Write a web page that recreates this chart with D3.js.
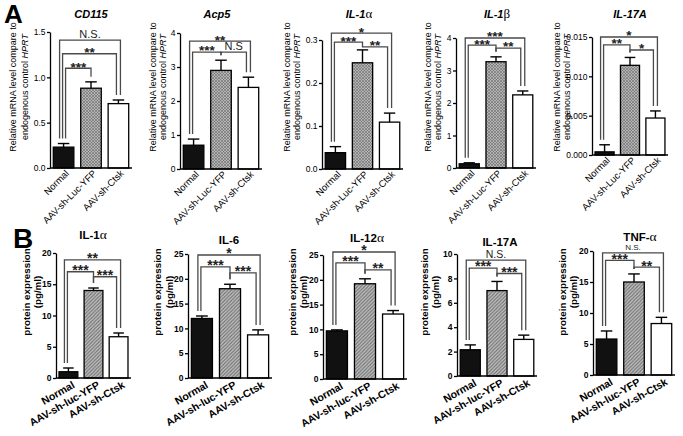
<!DOCTYPE html>
<html><head><meta charset="utf-8">
<script src="https://cdn.jsdelivr.net/npm/d3@7"></script>
<style>
body{margin:0;background:#fff}
svg{display:block;font-family:"Liberation Sans",Arial,Helvetica,sans-serif}
</style>
</head><body>
<svg id="chart" width="683" height="436"></svg>
<script>
// ---------------- data ----------------
const groupsA = ["Normal", "AAV-sh-Luc-YFP", "AAV-sh-Ctsk"];
const groupsB = ["Normal", "AAV-sh-luc-YFP", "AAV-sh-Ctsk"];

const titlesA = ["CD115", "Acp5", "IL-1α", "IL-1β", "IL-17A"];
const meansA = [
  [0.23, 0.88, 0.71],
  [0.70, 2.90, 2.40],
  [0.038, 0.247, 0.109],
  [0.13, 3.27, 2.25],
  [0.0004, 0.0114, 0.0047]
];
const errorsA = [
  [0.04, 0.07, 0.04],
  [0.18, 0.30, 0.30],
  [0.014, 0.030, 0.021],
  [0.03, 0.15, 0.12],
  [0.0009, 0.0010, 0.0009]
];
const ticksA = [
  [0, 0.5, 1.0, 1.5],
  [0, 1, 2, 3, 4],
  [0, 0.1, 0.2, 0.3],
  [0, 1, 2, 3, 4],
  [0, 0.005, 0.010, 0.015]
];
const tickLabelsA = [
  ["0.0", "0.5", "1.0", "1.5"],
  ["0", "1", "2", "3", "4"],
  ["0.0", "0.1", "0.2", "0.3"],
  ["0", "1", "2", "3", "4"],
  ["0.000", "0.005", "0.010", "0.015"]
];
// significance brackets: [from group, to group, label, bracket height in data units]
const sigA = [
  [[0, 2, "N.S.", 1.41], [0, 2, "**", 1.26], [0, 1, "***", 1.10]],
  [[0, 2, "**", 3.76], [0, 1, "***", 3.44], [1, 2, "N.S", 3.44]],
  [[0, 2, "*", 0.316], [0, 1, "***", 0.295], [1, 2, "**", 0.284]],
  [[0, 2, "***", 4.0], [0, 1, "***", 3.78], [1, 2, "**", 3.69]],
  [[0, 2, "*", 0.0150], [0, 1, "**", 0.0140], [1, 2, "*", 0.01335]]
];
const yLabelA = ["Relative mRNA level compare to", "endogenous control ", "HPRT"];

const titlesB = ["IL-1α", "IL-6", "IL-12α", "IL-17A", "TNF-α"];
const meansB = [
  [1.0, 14.0, 6.6],
  [12.0, 18.0, 8.7],
  [9.7, 19.2, 13.1],
  [2.15, 7.0, 3.0],
  [5.8, 15.0, 8.3]
];
const errorsB = [
  [0.6, 0.4, 0.6],
  [0.5, 0.9, 1.0],
  [0.2, 1.0, 0.7],
  [0.4, 0.75, 0.35],
  [1.3, 1.3, 1.0]
];
const ticksB = [
  [0, 5, 10, 15, 20],
  [0, 5, 10, 15, 20, 25],
  [0, 5, 10, 15, 20, 25],
  [0, 2, 4, 6, 8, 10],
  [0, 5, 10, 15, 20]
];
const sigB = [
  [[0, 2, "**", 18.9], [0, 1, "***", 17.0], [1, 2, "***", 16.2]],
  [[0, 2, "*", 24.8], [0, 1, "***", 22.4], [1, 2, "***", 21.2]],
  [[0, 2, "*", 25.6], [0, 1, "***", 23.4], [1, 2, "**", 22.0]],
  [[0, 2, "N.S.", 9.5], [0, 1, "***", 8.85], [1, 2, "***", 8.4]],
  [[0, 2, "N.S.", 19.7], [0, 1, "***", 18.5], [1, 2, "**", 17.4]]
];
const yLabelB = ["protein expression", "(pg/ml)"];
const panelLetters = ["A", "B"];

// ---------------- layout (positions only) ----------------
const layoutA = [
  {x0: 50,  x1: 132, top: 32, bot: 168, lab: [13, 25],   tx: 91},
  {x0: 180, x1: 262, top: 33, bot: 169, lab: [153, 163], tx: 217},
  {x0: 322, x1: 403, top: 40, bot: 169, lab: [287, 297], tx: 359},
  {x0: 456, x1: 536, top: 38, bot: 168, lab: [428, 438], tx: 497},
  {x0: 592, x1: 668, top: 37, bot: 155, lab: [557, 567], tx: 630}
];
const layoutB = [
  {x0: 56,  x1: 131, top: 253, bot: 378, lab: [27, 38],   tx: 93,  ty: 239},
  {x0: 188, x1: 272, top: 254, bot: 378, lab: [158, 170], tx: 229, ty: 244},
  {x0: 323, x1: 407, top: 255, bot: 379, lab: [293, 304], tx: 367, ty: 242},
  {x0: 457, x1: 537, top: 254, bot: 376, lab: [425, 436], tx: 500, ty: 246},
  {x0: 593, x1: 675, top: 251, bot: 375, lab: [563, 574], tx: 640, ty: 241}
];

const svg = d3.select("#chart");
const defs = svg.append("defs");
// cross-hatch for top row
const pA = defs.append("pattern").attr("id", "hatchA").attr("patternUnits", "userSpaceOnUse")
  .attr("width", 3).attr("height", 3);
pA.append("rect").attr("width", 3).attr("height", 3).attr("fill", "#b4b4b4");
pA.append("path").attr("d", "M-1,1 l2,-2 M0,3 l3,-3 M2,4 l2,-2 M-1,2 l2,2 M0,0 l3,3 M2,-1 l2,2")
  .attr("stroke", "#6a6a6a").attr("stroke-width", 0.6);
// diagonal hatch for bottom row
const pB = defs.append("pattern").attr("id", "hatchB").attr("patternUnits", "userSpaceOnUse")
  .attr("width", 3.5).attr("height", 3.5);
pB.append("rect").attr("width", 3.5).attr("height", 3.5).attr("fill", "#c4c4c4");
pB.append("path").attr("d", "M-1,1 l2,-2 M0,3.5 l3.5,-3.5 M2.5,4.5 l2,-2")
  .attr("stroke", "#707070").attr("stroke-width", 1.1);

const fills = ["#111", null, "#fff"];
const GREEK = /[αβ]/;

function titleText(sel, str, greekSize) {
  for (const ch of str.split(/([αβ])/)) {
    if (!ch) continue;
    const t = sel.append("tspan").text(ch);
    if (GREEK.test(ch)) t.attr("font-family", "'Liberation Serif','DejaVu Serif',serif")
      .attr("font-style", "normal").attr("font-weight", "normal").attr("font-size", greekSize);
  }
}

function drawPanel(cfg) {
  const {L, groups, means, errs, ticks, tickLabels, sig, hatch, bold, angle,
         tickFont, xFont, xShift, title, titleFont, titleStyle, titleY, yLab, yLabFont, yLabCY, ns, star} = cfg;
  const g = svg.append("g");
  const y = d3.scaleLinear().domain([0, ticks[ticks.length - 1]]).range([L.bot, L.top]);
  const x = d3.scaleBand().domain(groups).range([L.x0, L.x1]).paddingInner(0.25).paddingOuter(0.12);
  const bw = x.bandwidth();
  const cx = i => x(groups[i]) + bw / 2;

  // bars
  g.selectAll("rect.bar").data(means).join("rect").attr("class", "bar")
    .attr("x", (d, i) => x(groups[i])).attr("width", bw)
    .attr("y", d => y(d)).attr("height", d => L.bot - y(d))
    .attr("fill", (d, i) => i === 1 ? `url(#${hatch})` : fills[i])
    .attr("stroke", "#000").attr("stroke-width", 1.3);

  // error bars (upper only)
  const eg = g.append("g").attr("stroke", "#000").attr("stroke-width", 1.4);
  means.forEach((m, i) => {
    const yt = y(m + errs[i]);
    eg.append("line").attr("x1", cx(i)).attr("x2", cx(i)).attr("y1", y(m)).attr("y2", yt);
    eg.append("line").attr("x1", cx(i) - bw * 0.28).attr("x2", cx(i) + bw * 0.28).attr("y1", yt).attr("y2", yt);
  });

  // axes
  const ya = d3.axisLeft(y).tickValues(ticks).tickFormat((d, i) => tickLabels[i]).tickSize(3).tickSizeOuter(0).tickPadding(1.5);
  const yg = g.append("g").attr("transform", `translate(${L.x0},0)`).call(ya);
  yg.selectAll("path,line").attr("stroke", "#000").attr("stroke-width", 1.3);
  yg.selectAll("text").attr("font-size", tickFont).attr("font-weight", bold ? "bold" : "normal")
    .attr("font-family", "'Liberation Sans',Arial,sans-serif").attr("fill", "#000");

  const xa = d3.axisBottom(x).tickSize(0).tickSizeOuter(0).tickPadding(0);
  const xg = g.append("g").attr("transform", `translate(0,${L.bot})`).call(xa);
  xg.select("path").attr("d", `M${L.x0},0H${L.x1}`).attr("stroke", "#000").attr("stroke-width", 1.3);
  xg.selectAll("text").attr("font-size", xFont).attr("font-weight", bold ? "bold" : "normal")
    .attr("font-family", "'Liberation Sans',Arial,sans-serif").attr("fill", "#000")
    .attr("text-anchor", "end").attr("dy", null).attr("y", 0)
    .attr("transform", `translate(${xShift[0]},${xShift[1]}) rotate(${-angle})`);

  // significance brackets
  const top = i => y(means[i] + errs[i]) - 5;
  const leftRank = {}, rightRank = {};
  const sorted = sig.map((s, k) => ({s, k})).sort((a, b) => b.s[3] - a.s[3]);
  const offs = {};
  sorted.forEach(({s, k}) => {
    const [i, j] = s;
    let ol = 0, or = 0;
    if (i === 0) { leftRank[0] = (leftRank[0] ?? -1) + 1; ol = -4 + 3 * leftRank[0]; }
    if (j === 2) { rightRank[2] = (rightRank[2] ?? -1) + 1; or = 2 - 4 * rightRank[2]; }
    offs[k] = [ol, or];
  });
  const bg = g.append("g");
  sig.forEach((s, k) => {
    const [i, j, lab, h] = s;
    const xl = cx(i) + offs[k][0], xr = cx(j) + offs[k][1], yh = y(h);
    bg.append("path").attr("d", `M${xl},${top(i)}V${yh}H${xr}V${top(j)}`)
      .attr("fill", "none").attr("stroke", "#4a4a4a").attr("stroke-width", 1.3);
    const isNS = lab.startsWith("N");
    bg.append("text").attr("x", (xl + xr) / 2).attr("y", isNS ? yh - 2.5 : yh + 3.4)
      .attr("text-anchor", "middle").attr("fill", "#222")
      .attr("font-size", isNS ? ns : star).attr("font-weight", isNS ? "normal" : "bold")
      .text(lab);
  });

  // title
  const tt = svg.append("text").attr("x", L.tx).attr("y", titleY ?? L.ty).attr("text-anchor", "middle")
    .attr("font-size", titleFont).attr("font-weight", "bold").attr("font-style", titleStyle);
  titleText(tt, title, titleFont + 2);

  // y label
  yLab.forEach((line, li) => {
    const t = svg.append("text").attr("text-anchor", "middle").attr("font-size", yLabFont)
      .attr("font-weight", bold ? "bold" : "normal")
      .attr("transform", `translate(${L.lab[li] + yLabFont * 0.35},${yLabCY}) rotate(-90)`);
    if (Array.isArray(line)) {
      t.append("tspan").text(line[0]);
      t.append("tspan").attr("font-style", "italic").text(line[1]);
    } else t.text(line);
  });
}

layoutA.forEach((L, p) => drawPanel({
  L, groups: groupsA, means: meansA[p], errs: errorsA[p], ticks: ticksA[p], tickLabels: tickLabelsA[p],
  sig: sigA[p], hatch: "hatchA", bold: false, angle: 45, tickFont: 8.5, xFont: 9.5, xShift: [6, 6],
  title: titlesA[p], titleFont: 11, titleStyle: "italic", titleY: 18,
  yLab: [yLabelA[0], [yLabelA[1], yLabelA[2]]], yLabFont: 9, yLabCY: 87, ns: 11, star: 13.5
}));

layoutB.forEach((L, p) => drawPanel({
  L, groups: groupsB, means: meansB[p], errs: errorsB[p], ticks: ticksB[p], tickLabels: ticksB[p].map(String),
  sig: sigB[p], hatch: "hatchB", bold: true, angle: 30, tickFont: 8.5, xFont: 10.5, xShift: [7, 9],
  title: titlesB[p], titleFont: 11.5, titleStyle: "normal",
  yLab: yLabelB, yLabFont: 9.8, yLabCY: 292, ns: p === 4 ? 8 : 10.5, star: 14
}));

svg.append("text").attr("x", 4).attr("y", 23).attr("font-size", 26).attr("font-weight", "bold").text(panelLetters[0]);
svg.append("text").attr("x", 13).attr("y", 248).attr("font-size", 28).attr("font-weight", "bold").text(panelLetters[1]);
</script>
</body></html>
